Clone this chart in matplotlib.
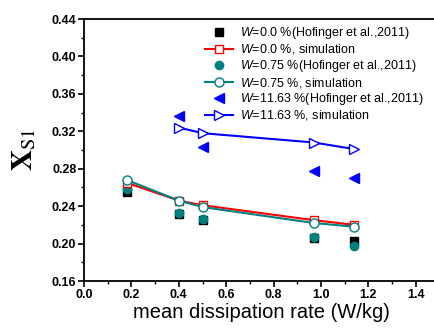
import matplotlib
matplotlib.use("Agg")
import matplotlib.pyplot as plt
from matplotlib.ticker import MultipleLocator, FormatStrFormatter

plt.rcParams['font.family'] = ['Liberation Sans', 'DejaVu Sans']
plt.rcParams['mathtext.fontset'] = 'custom'
plt.rcParams['mathtext.it'] = 'Liberation Sans:italic'
plt.rcParams['mathtext.rm'] = 'Liberation Sans'

# data
x_exp = [0.18, 0.40, 0.50, 0.97, 1.14]
y_exp_00 = [0.255, 0.232, 0.225, 0.206, 0.203]
y_sim_00 = [0.265, 0.246, 0.241, 0.225, 0.220]
y_exp_075 = [0.258, 0.233, 0.226, 0.207, 0.197]
y_sim_075 = [0.268, 0.246, 0.239, 0.222, 0.218]
x_116 = [0.40, 0.50, 0.97, 1.14]
y_exp_116 = [0.336, 0.303, 0.278, 0.270]
y_sim_116 = [0.324, 0.318, 0.308, 0.301]

labels = [
    r"$W$=0.0 %(Hofinger et al.,2011)",
    r"$W$=0.0 %, simulation",
    r"$W$=0.75 %(Hofinger et al.,2011)",
    r"$W$=0.75 %, simulation",
    r"$W$=11.63 %(Hofinger et al.,2011)",
    r"$W$=11.63 %, simulation",
]

W, H = 434, 335
fig = plt.figure(figsize=(W / 100, H / 100), dpi=100)
ax = fig.add_axes([84 / W, 1 - 281 / H, (439.5 - 84) / W, (281 - 19) / H])

teal = '#008080'
h1, = ax.plot(x_exp, y_exp_00, ls='none', marker='s', ms=5.5, color='black', zorder=3)
h2, = ax.plot(x_exp, y_sim_00, ls='-', lw=1.5, marker='s', ms=5.5, color='red',
              mfc='white', mec='red', mew=1.0, zorder=4)
h3, = ax.plot(x_exp, y_exp_075, ls='none', marker='o', ms=6, color=teal, zorder=3.5)
h4, = ax.plot(x_exp, y_sim_075, ls='-', lw=1.5, marker='o', ms=6.5, color=teal,
              mfc='white', mec=teal, mew=1.0, zorder=5)
h5, = ax.plot(x_116, y_exp_116, ls='none', marker='<', ms=7, color='blue', zorder=3)
h6, = ax.plot(x_116, y_sim_116, ls='-', lw=1.5, marker='>', ms=7, color='blue',
              mfc='white', mec='blue', mew=1.0, zorder=4)

ax.set_xlim(0, 1.5)
ax.set_ylim(0.16, 0.44)
ax.xaxis.set_major_locator(MultipleLocator(0.2))
ax.xaxis.set_minor_locator(MultipleLocator(0.1))
ax.yaxis.set_major_locator(MultipleLocator(0.04))
ax.yaxis.set_minor_locator(MultipleLocator(0.02))
ax.xaxis.set_major_formatter(FormatStrFormatter('%.1f'))
ax.yaxis.set_major_formatter(FormatStrFormatter('%.2f'))
ax.tick_params(which='major', direction='out', length=4, width=1.2, labelsize=9, pad=1.5)
ax.tick_params(which='minor', direction='out', length=2.5, width=1.0)
for lab in ax.get_xticklabels() + ax.get_yticklabels():
    lab.set_fontweight('bold')
for s in ax.spines.values():
    s.set_linewidth(1.3)

ax.set_xlabel('mean dissipation rate (W/kg)', fontsize=14.5, labelpad=2)
ax.set_ylabel(r'$\mathbf{X}_{\mathrm{S1}}$', fontsize=21, math_fontfamily='stix', labelpad=10)

leg = fig.legend([h1, h2, h3, h4, h5, h6], labels, loc='upper left',
                 bbox_to_anchor=(205 / W, 1 - 25 / H), frameon=False, fontsize=9,
                 handlelength=2.2, handletextpad=0.6, labelspacing=0.12,
                 borderpad=0, borderaxespad=0)

fig.savefig('out.png', dpi=100)
